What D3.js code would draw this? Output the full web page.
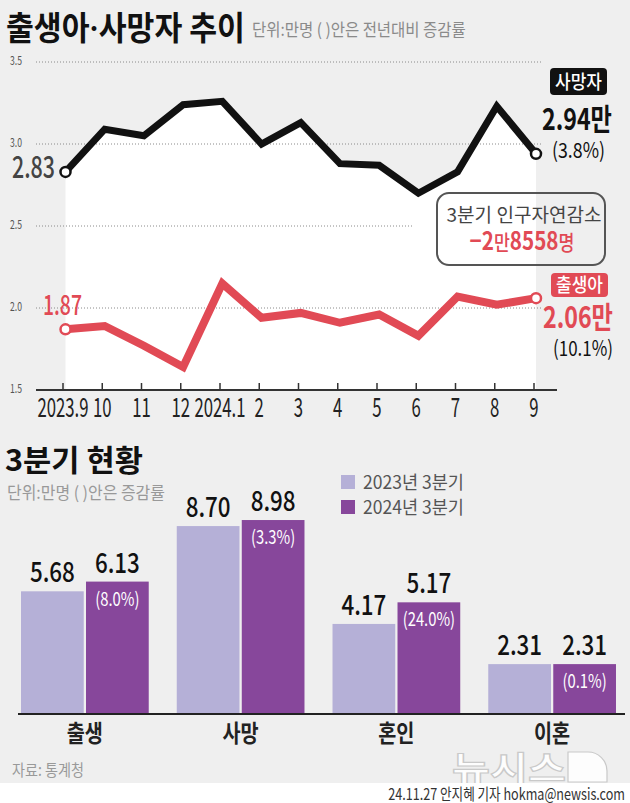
<!DOCTYPE html>
<html><head><meta charset="utf-8">
<script src="https://cdn.jsdelivr.net/npm/d3@7"></script>
<style>html,body{margin:0;padding:0;background:#efefef;} svg{display:block;}</style>
</head><body><svg id="c" width="630" height="803"></svg>
<script>
// ---------- data ----------
const months = ["2023.9","10","11","12","2024.1","2","3","4","5","6","7","8","9"];
const deaths = [2.83,3.09,3.05,3.24,3.26,3.00,3.13,2.88,2.87,2.70,2.83,3.23,2.94];
const births = [1.87,1.89,1.77,1.64,2.15,1.94,1.97,1.91,1.96,1.83,2.07,2.02,2.06];
const yTicks = [1.5,2.0,2.5,3.0,3.5];
const categories = ["출생","사망","혼인","이혼"];
const seriesNames = ["2023년 3분기","2024년 3분기"];
const q3_2023 = [5.68,8.70,4.17,2.31];
const q3_2024 = [6.13,8.98,5.17,2.31];
const change2024 = ["8.0%","3.3%","24.0%","0.1%"];

// ---------- helpers ----------
const FONT = "'Noto Sans CJK KR','Noto Sans',sans-serif";
const RED = "#e14a55", BLACK = "#111";
const svg = d3.select("#c");
function txt(g, s, x, y, o = {}) {
  const t = g.append("text").attr("x", 0).attr("y", 0)
    .attr("font-family", FONT).attr("font-size", o.size || 14)
    .attr("font-weight", o.weight || 400).attr("fill", o.fill || "#222")
    .attr("text-anchor", o.anchor || "start").text(s);
  let sx = o.sx || 1;
  if (o.w) { const L = t.node().getComputedTextLength(); if (L > 0) sx = o.w / L; }
  t.attr("transform", `translate(${x},${y}) scale(${sx},1)`);
  return t;
}
function fit(t, x, y, w) {
  const L = t.node().getComputedTextLength();
  t.attr("transform", `translate(${x},${y}) scale(${L > 0 ? w / L : 1},1)`);
}

svg.append("rect").attr("width", 630).attr("height", 803).attr("fill", "#efefef");

// ---------- titles ----------
const title = svg.append("text").attr("font-family", FONT).attr("font-size", 33)
  .attr("font-weight", 700).attr("fill", "#111");
title.append("tspan").text("출생아");
title.append("tspan").attr("font-family", "Roboto, sans-serif").text("·");
title.append("tspan").text("사망자 추이");
fit(title, 6, 40, 239);
txt(svg, "단위:만명 ( )안은 전년대비 증감률", 252, 36, {size: 17, fill: "#8a8a8a", w: 214});

// ---------- line chart ----------
const idx = d3.range(months.length);
const x = d3.scalePoint().domain(idx).range([65.5, 536]);
const xa = d3.scalePoint().domain(idx).range([62.5, 533.5]);
const y = d3.scaleLinear().domain([1.5, 3.5]).range([390, 62]);

const lc = svg.append("g");
lc.append("path").datum(deaths)
  .attr("d", d3.area().x((d, i) => x(i)).y0(y(1.5)).y1(d => y(d)))
  .attr("fill", "#fff");

yTicks.forEach(v => {
  if (v > 1.5) {
    lc.append("line").attr("x1", 36).attr("x2", v === 2.5 ? 414 : 541)
      .attr("y1", y(v)).attr("y2", y(v))
      .attr("stroke", "#8a8a8a").attr("stroke-width", 1).attr("stroke-dasharray", "1,2");
  }
  txt(lc, d3.format(".1f")(v), 10, y(v) + 3, {size: 12, fill: "#555", w: 12});
});

const line = d3.line().x((d, i) => x(i)).y(d => y(d));
lc.append("path").datum(deaths).attr("d", line).attr("fill", "none")
  .attr("stroke", BLACK).attr("stroke-width", 7).attr("stroke-linejoin", "miter");
lc.append("path").datum(births).attr("d", line).attr("fill", "none")
  .attr("stroke", RED).attr("stroke-width", 8).attr("stroke-linejoin", "miter");

[[deaths, BLACK], [births, RED]].forEach(([arr, col]) => {
  [0, arr.length - 1].forEach(i => {
    lc.append("circle").attr("cx", x(i)).attr("cy", y(arr[i])).attr("r", 5)
      .attr("fill", "#fff").attr("stroke", col).attr("stroke-width", 2.5);
  });
});

// x axis
lc.append("line").attr("x1", 36).attr("x2", 557).attr("y1", 390).attr("y2", 390)
  .attr("stroke", "#333").attr("stroke-width", 2);
const ax = lc.append("g").attr("transform", "translate(0,390)")
  .call(d3.axisBottom(xa).tickFormat(i => months[i]).tickSizeInner(-7).tickSizeOuter(0));
ax.select(".domain").remove();
ax.selectAll(".tick line").attr("stroke", "#333").attr("stroke-width", 1.5);
ax.selectAll(".tick text").attr("y", 27).attr("dy", 0).attr("font-size", 27)
  .attr("font-family", FONT).attr("fill", "#222").attr("transform", "scale(0.62,1)");
ax.attr("font-family", FONT).attr("font-size", 27);

// annotations
txt(lc, "2.83", 55, 178, {size: 30, weight: 500, fill: "#444", anchor: "end", w: 43});
txt(lc, d3.format(".2f")(births[0]), 43, 315, {size: 28, weight: 500, fill: RED, w: 39});

lc.append("rect").attr("x", 550).attr("y", 68).attr("width", 57).attr("height", 27)
  .attr("rx", 4).attr("fill", "#111");
txt(lc, "사망자", 578.5, 89, {size: 19, weight: 500, fill: "#fff", anchor: "middle", w: 47});
txt(lc, d3.format(".2f")(deaths[deaths.length - 1]) + "만", 542, 130, {size: 30, weight: 700, fill: "#111", w: 70});
txt(lc, "(3.8%)", 552, 158, {size: 21, fill: "#111", w: 53});

lc.append("rect").attr("x", 437).attr("y", 193).attr("width", 168).attr("height", 72)
  .attr("rx", 12).attr("fill", "none").attr("stroke", "#555").attr("stroke-width", 2);
txt(lc, "3분기 인구자연감소", 524, 222, {size: 19, fill: "#444", anchor: "middle", w: 155});
const dec = lc.append("text").attr("font-family", FONT).attr("fill", RED).attr("text-anchor", "middle");
dec.append("tspan").attr("font-size", 25).attr("font-weight", 700).text("−2");
dec.append("tspan").attr("font-size", 21).attr("font-weight", 500).text("만");
dec.append("tspan").attr("font-size", 25).attr("font-weight", 700).text("8558");
dec.append("tspan").attr("font-size", 21).attr("font-weight", 500).text("명");
fit(dec, 522, 250, 105);

lc.append("rect").attr("x", 551).attr("y", 273).attr("width", 57).attr("height", 24)
  .attr("rx", 4).attr("fill", RED);
txt(lc, "출생아", 579.5, 292, {size: 19, weight: 500, fill: "#fff", anchor: "middle", w: 47});
txt(lc, d3.format(".2f")(births[births.length - 1]) + "만", 543, 328, {size: 30, weight: 700, fill: RED, w: 70});
txt(lc, "(10.1%)", 553, 356, {size: 21, fill: "#111", w: 60});

// ---------- bar chart ----------
const bc = svg.append("g");
txt(bc, "3분기 현황", 5, 471, {size: 30, weight: 700, fill: "#111", w: 138});
txt(bc, "단위:만명 ( )안은  증감률", 7, 499, {size: 17, fill: "#999", w: 158});

const colors = ["#b5b0d7", "#87479b"];
seriesNames.forEach((s, i) => {
  bc.append("rect").attr("x", 341).attr("y", 475 + i * 25).attr("width", 14).attr("height", 14).attr("fill", colors[i]);
  txt(bc, s, 363, 489 + i * 25, {size: 18, fill: "#555", w: 101});
});

const x0 = d3.scaleBand().domain(categories).range([7, 630]).paddingInner(0.18).paddingOuter(0.09);
const x1 = d3.scaleBand().domain([0, 1]).range([0, x0.bandwidth()]).paddingInner(0.035);
const yb = d3.scaleLinear().domain([0, 10]).range([714, 498]);

categories.forEach((c, ci) => {
  [q3_2023[ci], q3_2024[ci]].forEach((v, si) => {
    const bx = x0(c) + x1(si), bw = x1.bandwidth();
    bc.append("rect").attr("x", bx).attr("y", yb(v)).attr("width", bw).attr("height", yb(0) - yb(v))
      .attr("fill", colors[si]);
    txt(bc, d3.format(".2f")(v), bx + bw / 2, yb(v) - 9, {size: 28, weight: 500, fill: "#111", anchor: "middle", sx: 0.8});
    if (si === 1) {
      txt(bc, "(" + change2024[ci] + ")", bx + bw / 2, yb(v) + 24, {size: 19, fill: "#fff", anchor: "middle", sx: 0.78});
    }
  });
  txt(bc, c, x0(c) + x0.bandwidth() / 2, 742, {size: 24, weight: 700, fill: "#222", anchor: "middle", sx: 0.82});
});
bc.append("line").attr("x1", 18).attr("x2", 625).attr("y1", 714).attr("y2", 714)
  .attr("stroke", "#222").attr("stroke-width", 2);

// ---------- footer ----------
txt(svg, "자료: 통계청", 12, 776, {size: 16, fill: "#999", w: 72});
const logo = svg.append("g");
txt(logo, "뉴시스", 452, 781, {size: 34, weight: 700, fill: "#fdfdfd", w: 114})
  .attr("stroke", "#c9c9c9").attr("stroke-width", 1.2);
logo.append("path").attr("d", "M568,752 H588 A19,19 0 0 1 607,771 V782 H568 Z")
  .attr("fill", "#fdfdfd").attr("stroke", "#c9c9c9").attr("stroke-width", 1.2);
svg.append("rect").attr("x", 0).attr("y", 783).attr("width", 630).attr("height", 20).attr("fill", "#fff");
txt(svg, "24.11.27 안지혜 기자 hokma@newsis.com", 625, 800, {size: 16, fill: "#333", anchor: "end", w: 237});
</script></body></html>
